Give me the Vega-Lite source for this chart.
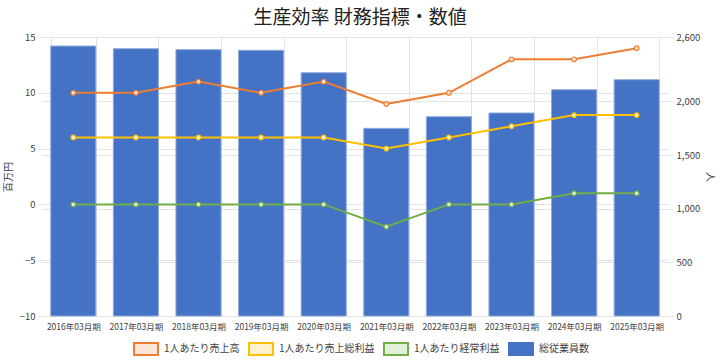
{
  "$schema": "https://vega.github.io/schema/vega-lite/v6.json",
  "width": 626,
  "height": 279,
  "autosize": "none",
  "padding": {"left": 42, "top": 37, "right": 52, "bottom": 44},
  "title": {"text": "生産効率 財務指標・数値", "fontSize": 19, "fontWeight": "normal", "color": "#222222", "anchor": "middle", "dx": 5, "offset": 4},
  "config": {
    "font": "Noto Sans CJK JP",
    "view": {"stroke": null},
    "axis": {"labelColor": "#404040", "titleColor": "#404040", "gridColor": "#e3e3e3", "tickColor": "#e3e3e3", "domainColor": "#e3e3e3", "labelFontSize": 9.5, "titleFontSize": 10, "titleFontWeight": "normal"}
  },
  "datasets": {
    "bars": [
      {"period": "2016年03月期", "series": "総従業員数", "employees": 2516},
      {"period": "2017年03月期", "series": "総従業員数", "employees": 2491},
      {"period": "2018年03月期", "series": "総従業員数", "employees": 2482},
      {"period": "2019年03月期", "series": "総従業員数", "employees": 2476},
      {"period": "2020年03月期", "series": "総従業員数", "employees": 2267},
      {"period": "2021年03月期", "series": "総従業員数", "employees": 1749},
      {"period": "2022年03月期", "series": "総従業員数", "employees": 1857},
      {"period": "2023年03月期", "series": "総従業員数", "employees": 1892},
      {"period": "2024年03月期", "series": "総従業員数", "employees": 2109},
      {"period": "2025年03月期", "series": "総従業員数", "employees": 2202}
    ],
    "lines": [
      {"period": "2016年03月期", "series": "1人あたり売上高", "value": 10},
      {"period": "2017年03月期", "series": "1人あたり売上高", "value": 10},
      {"period": "2018年03月期", "series": "1人あたり売上高", "value": 11},
      {"period": "2019年03月期", "series": "1人あたり売上高", "value": 10},
      {"period": "2020年03月期", "series": "1人あたり売上高", "value": 11},
      {"period": "2021年03月期", "series": "1人あたり売上高", "value": 9},
      {"period": "2022年03月期", "series": "1人あたり売上高", "value": 10},
      {"period": "2023年03月期", "series": "1人あたり売上高", "value": 13},
      {"period": "2024年03月期", "series": "1人あたり売上高", "value": 13},
      {"period": "2025年03月期", "series": "1人あたり売上高", "value": 14},
      {"period": "2016年03月期", "series": "1人あたり売上総利益", "value": 6},
      {"period": "2017年03月期", "series": "1人あたり売上総利益", "value": 6},
      {"period": "2018年03月期", "series": "1人あたり売上総利益", "value": 6},
      {"period": "2019年03月期", "series": "1人あたり売上総利益", "value": 6},
      {"period": "2020年03月期", "series": "1人あたり売上総利益", "value": 6},
      {"period": "2021年03月期", "series": "1人あたり売上総利益", "value": 5},
      {"period": "2022年03月期", "series": "1人あたり売上総利益", "value": 6},
      {"period": "2023年03月期", "series": "1人あたり売上総利益", "value": 7},
      {"period": "2024年03月期", "series": "1人あたり売上総利益", "value": 8},
      {"period": "2025年03月期", "series": "1人あたり売上総利益", "value": 8},
      {"period": "2016年03月期", "series": "1人あたり経常利益", "value": 0},
      {"period": "2017年03月期", "series": "1人あたり経常利益", "value": 0},
      {"period": "2018年03月期", "series": "1人あたり経常利益", "value": 0},
      {"period": "2019年03月期", "series": "1人あたり経常利益", "value": 0},
      {"period": "2020年03月期", "series": "1人あたり経常利益", "value": 0},
      {"period": "2021年03月期", "series": "1人あたり経常利益", "value": -2},
      {"period": "2022年03月期", "series": "1人あたり経常利益", "value": 0},
      {"period": "2023年03月期", "series": "1人あたり経常利益", "value": 0},
      {"period": "2024年03月期", "series": "1人あたり経常利益", "value": 1},
      {"period": "2025年03月期", "series": "1人あたり経常利益", "value": 1}
    ]
  },
  "encoding": {
    "x": {
      "field": "period",
      "type": "nominal",
      "sort": null,
      "scale": {"paddingInner": 0.28, "paddingOuter": 0.14},
      "axis": {"title": null, "labelAngle": 0, "grid": true, "tickBand": "extent", "ticks": false, "domain": false, "labelFontSize": 8.5, "labelPadding": 6}
    }
  },
  "layer": [
    {
      "data": {"name": "bars"},
      "mark": {"type": "bar", "strokeWidth": 1, "stroke": "#8FAADC"},
      "encoding": {
        "y": {
          "field": "employees",
          "type": "quantitative",
          "scale": {"domain": [0, 2600], "nice": false},
          "axis": {"orient": "right", "title": "人", "values": [0, 500, 1000, 1500, 2000, 2600], "format": ",.0f", "grid": true, "domain": false, "tickSize": 5, "labelPadding": 3, "titlePadding": 5}
        },
        "fill": {
          "field": "series",
          "type": "nominal",
          "scale": {"domain": ["1人あたり売上高", "1人あたり売上総利益", "1人あたり経常利益", "総従業員数"], "range": ["#FBE5D6", "#FFF2CC", "#E2F0D9", "#4472C4"]},
          "legend": {
            "title": null,
            "orient": "none",
            "direction": "horizontal",
            "gridAlign": "none",
            "legendX": 91,
            "legendY": 299,
            "labelFontSize": 10,
            "labelColor": "#404040",
            "labelOffset": 5,
            "columnPadding": 5,
            "labelLimit": 300,
            "symbolSize": 576,
            "symbolStrokeWidth": 2,
            "symbolType": "M-1,-0.5H1V0.5H-1Z"
          }
        }
      }
    },
    {
      "data": {"name": "lines"},
      "encoding": {
        "y": {
          "field": "value",
          "type": "quantitative",
          "scale": {"domain": [-10, 15], "nice": false},
          "axis": {"orient": "left", "title": "百万円", "values": [-10, -5, 0, 5, 10, 15], "grid": true, "domain": false, "tickSize": 4, "labelPadding": 3, "titlePadding": 6}
        }
      },
      "layer": [
        {
          "mark": {"type": "line", "strokeWidth": 2},
          "encoding": {
            "stroke": {
              "field": "series",
              "type": "nominal",
              "scale": {"domain": ["1人あたり売上高", "1人あたり売上総利益", "1人あたり経常利益", "総従業員数"], "range": ["#ED7D31", "#FFC000", "#70AD47", "#4472C4"]}
            }
          }
        },
        {
          "mark": {"type": "point", "filled": true, "size": 22, "strokeWidth": 1.2, "opacity": 1},
          "encoding": {
            "fill": {"field": "series", "type": "nominal"},
            "stroke": {"field": "series", "type": "nominal"}
          }
        }
      ]
    }
  ],
  "resolve": {"scale": {"y": "independent"}}
}
